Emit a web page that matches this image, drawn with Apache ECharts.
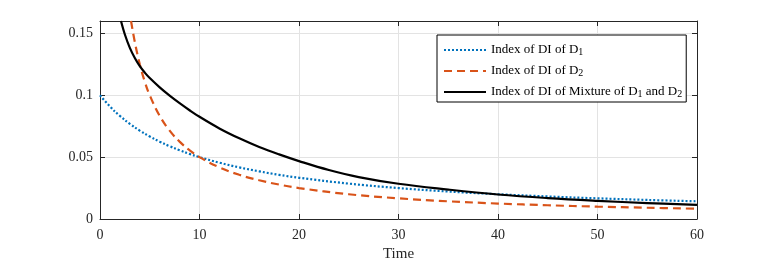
<!DOCTYPE html>
<html>
<head>
<meta charset="utf-8">
<script src="https://cdn.jsdelivr.net/npm/echarts@6/dist/echarts.min.js"></script>
<style>
html,body{margin:0;padding:0;background:#fff;}
#c{width:767px;height:263px;}
</style>
</head>
<body>
<div id="c"></div>
<script>
// Series: Index of DI of D1 (blue dotted)
const tD1 = [0, 1, 2, 3, 4, 5, 6, 7, 8, 9, 10, 12, 14, 16, 18, 20, 25, 30, 35, 40, 45, 50, 55, 60];
const vD1 = [0.1, 0.0909, 0.0833, 0.0769, 0.0714, 0.0667, 0.0625, 0.0588, 0.0556, 0.0526, 0.05, 0.0455, 0.0417, 0.0385, 0.0357, 0.0333, 0.0286, 0.025, 0.0222, 0.02, 0.0182, 0.0167, 0.0154, 0.0143];
// Series: Index of DI of D2 (orange dashed)
const tD2 = [3.12, 3.5, 4, 4.5, 5, 6, 7, 8, 9, 10, 12, 14, 16, 18, 20, 25, 30, 35, 40, 45, 50, 55, 60];
const vD2 = [0.16, 0.143, 0.125, 0.111, 0.1, 0.0833, 0.0714, 0.0625, 0.0556, 0.05, 0.0417, 0.0357, 0.0313, 0.0278, 0.025, 0.02, 0.0167, 0.0143, 0.0125, 0.0111, 0.01, 0.0091, 0.0083];
// Series: Index of DI of Mixture (black solid)
const tMix = [2.11, 2.5, 3, 3.5, 4, 4.5, 5, 6, 7, 8, 9, 10, 12, 14, 16, 18, 20, 23, 26, 30, 35, 40, 45, 50, 55, 60];
const vMix = [0.16, 0.1491, 0.1383, 0.1301, 0.1235, 0.1183, 0.1139, 0.1064, 0.0997, 0.0936, 0.0879, 0.0826, 0.0732, 0.0652, 0.0582, 0.0522, 0.0468, 0.0396, 0.0339, 0.0285, 0.0238, 0.0198, 0.0169, 0.0147, 0.0129, 0.0114];

const xTicks = [0, 10, 20, 30, 40, 50, 60];
const yTicks = [0, 0.05, 0.1, 0.15];
const legendLabels = {
  D1: '{n|Index of DI of D}{s|1}',
  D2: '{n|Index of DI of D}{s|2}',
  Mix: '{n|Index of DI of Mixture of D}{s|1}{n| and D}{s|2}'
};

const zip = (t, v) => t.map((x, i) => [x, v[i]]);
const FONT = 'Liberation Serif';
const axisCol = '#262626';

const chart = echarts.init(document.getElementById('c'), null, {renderer: 'canvas'});
const baseAxis = {
  axisLine: {show: true, onZero: false, lineStyle: {color: axisCol, width: 1}},
  axisTick: {show: true, inside: true, length: 5, lineStyle: {color: axisCol}},
  splitLine: {show: false},
  axisLabel: {show: false}
};
chart.setOption({
  animation: false,
  backgroundColor: '#fff',
  grid: {left: 100, right: 70, top: 21, bottom: 44, show: false, containLabel: false, outerBoundsMode: 'none'},
  xAxis: [
    Object.assign({}, baseAxis, {
      type: 'value', min: 0, max: 60, interval: 10, position: 'bottom',
      name: 'Time', nameLocation: 'middle', nameGap: 27,
      nameTextStyle: {fontFamily: FONT, fontSize: 15, color: axisCol},
      splitLine: {show: true, lineStyle: {color: '#e3e3e3', width: 1}},
      axisLabel: {show: true, fontFamily: FONT, fontSize: 14, color: axisCol, margin: 9,
        formatter: v => xTicks.includes(v) ? String(v) : ''}
    }),
    Object.assign({}, baseAxis, {type: 'value', min: 0, max: 60, interval: 10, position: 'top'})
  ],
  yAxis: [
    Object.assign({}, baseAxis, {
      type: 'value', min: 0, max: 0.16, interval: 0.05, position: 'left',
      splitLine: {show: true, lineStyle: {color: '#e3e3e3', width: 1}},
      axisLabel: {show: true, fontFamily: FONT, fontSize: 14, color: axisCol, margin: 7, showMaxLabel: false,
        formatter: v => {
          const m = yTicks.find(t => Math.abs(t - v) < 1e-9);
          return m === undefined ? '' : String(m);
        }}
    }),
    Object.assign({}, baseAxis, {type: 'value', min: 0, max: 0.16, interval: 0.05, position: 'right'})
  ],
  legend: {
    orient: 'vertical',
    left: 437, top: 35,
    itemWidth: 42, itemHeight: 14, itemGap: 3,
    padding: [4, 4, 3, 6],
    borderColor: '#000', borderWidth: 1, backgroundColor: '#fff',
    selectedMode: false,
    itemStyle: {opacity: 0},
    data: ['D1', 'D2', 'Mix'],
    formatter: name => legendLabels[name],
    textStyle: {
      fontFamily: FONT, fontSize: 13, color: '#000',
      rich: {
        n: {fontFamily: FONT, fontSize: 13, color: '#000', verticalAlign: 'top', lineHeight: 14},
        s: {fontFamily: FONT, fontSize: 10, color: '#000', verticalAlign: 'bottom', lineHeight: 10, padding: [8, 0, 0, 0]}
      }
    }
  },
  series: [
    {name: 'D1', type: 'line', data: zip(tD1, vD1), xAxisIndex: 0, yAxisIndex: 0,
     showSymbol: false, symbol: 'none', smooth: 0.4,
     lineStyle: {color: '#0072BD', width: 2.2, type: [2, 2]}, itemStyle: {color: '#0072BD'}},
    {name: 'D2', type: 'line', data: zip(tD2, vD2), xAxisIndex: 0, yAxisIndex: 0,
     showSymbol: false, symbol: 'none', smooth: 0.4,
     lineStyle: {color: '#D95319', width: 2.2, type: [8, 5]}, itemStyle: {color: '#D95319'}},
    {name: 'Mix', type: 'line', data: zip(tMix, vMix), xAxisIndex: 0, yAxisIndex: 0,
     showSymbol: false, symbol: 'none', smooth: 0.4,
     lineStyle: {color: '#000000', width: 2.2, type: 'solid'}, itemStyle: {color: '#000000'}}
  ]
});
</script>
</body>
</html>
